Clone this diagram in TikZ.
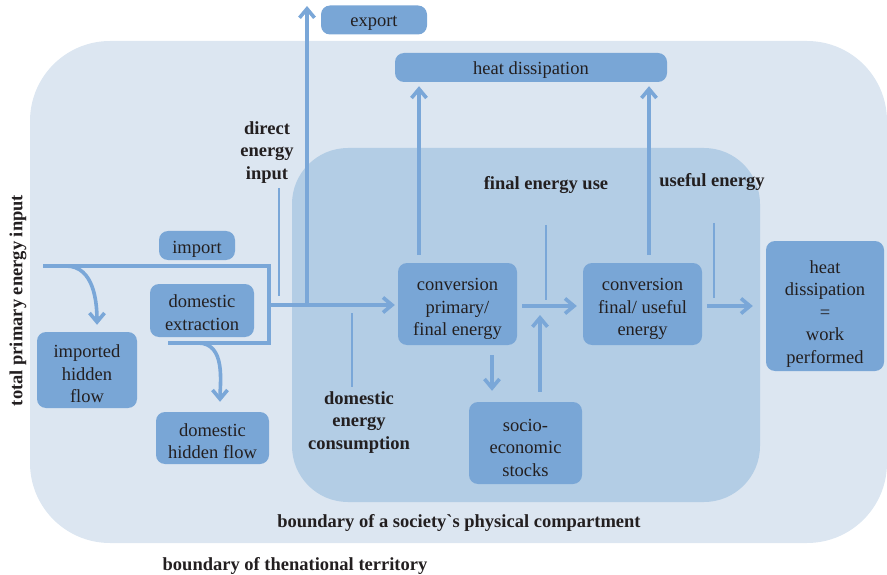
\documentclass[tikz,border=0pt]{standalone}
\usepackage{fontspec}
\setmainfont{Liberation Serif}
\usetikzlibrary{arrows.meta}
\definecolor{outer-bg}{HTML}{DCE6F1}
\definecolor{inner-bg}{HTML}{B3CDE5}
\definecolor{box-blue}{HTML}{79A6D6}
\definecolor{flow-blue}{HTML}{7AA7D8}
\definecolor{ink}{HTML}{231F20}
\newcommand{\dfont}{\fontsize{18.5}{22.5}\selectfont}

\begin{document}
\begin{tikzpicture}[x=1pt, y=-1pt,
    every node/.style={font=\dfont, text=ink},
    box/.style={fill=box-blue, rounded corners=9pt, inner sep=0pt},
    tx/.style={align=center, inner sep=0pt},
    flow/.style={draw=flow-blue, line width=3.6pt},
    arr/.style={flow, -{Straight Barb[length=9pt, width=15pt, line width=3.6pt]}},
    tick/.style={draw=flow-blue, line width=2pt},
    lbl/.style={font=\dfont\bfseries, align=center, yshift=-2.5pt}]
    \useasboundingbox (0,0) rectangle (887,575);

    % national territory and the society's compartment
    \fill[outer-bg, rounded corners=80pt] (30,41) rectangle (887,543);
    \fill[inner-bg, rounded corners=56pt] (292,148) rectangle (760,502);

    \node[box, minimum width=106pt, minimum height=29pt,
      label={[tx, yshift=-3.5pt]center:export}] (export) at (374,20) {};
    \node[box, minimum width=272pt, minimum height=29pt,
      label={[tx, yshift=-3pt]center:heat dissipation}] (heat) at (531,67.5) {};
    \node[box, minimum width=76pt, minimum height=29pt,
      label={[tx, yshift=-3.5pt]center:import}] (import) at (197,245.5) {};
    \node[box, minimum width=104pt, minimum height=53pt,
      label={[tx, yshift=-2pt]center:{domestic\\extraction}}] (domext) at (202,310.5) {};
    \node[box, minimum width=100pt, minimum height=76pt,
      label={[tx, yshift=-4pt]center:{imported\\hidden\\flow}}] (ihf) at (87,370) {};
    \node[box, minimum width=113pt, minimum height=52pt,
      label={[tx, yshift=-3pt]center:{domestic\\hidden flow}}] (dhf) at (212.5,438) {};
    \node[box, minimum width=119pt, minimum height=82pt,
      label={[tx, yshift=-5pt]center:{conversion\\primary/\\final energy}}] (conv1) at (457.5,304) {};
    \node[box, minimum width=119pt, minimum height=82pt,
      label={[tx, yshift=-5pt]center:{conversion\\final/ useful\\energy}}] (conv2) at (642.5,304) {};
    \node[box, minimum width=118pt, minimum height=130pt,
      label={[tx, yshift=-8pt]center:{heat\\dissipation\\=\\work\\performed}}] (work) at (825,306) {};
    \node[box, minimum width=113pt, minimum height=82pt,
      label={[tx, yshift=-4.5pt]center:{socio-\\economic\\stocks}}] (stocks) at (525.5,443) {};

    % labels
    \node[lbl] (dei) at (267,150) {direct\\energy\\input};
    \node[lbl] (feu) at (546,183) {final energy use};
    \node[lbl] (ue) at (712,180) {useful energy};
    \node[lbl] (dec) at (359,420) {domestic\\energy\\consumption};
    \node[lbl] (bsoc) at (459,520) {boundary of a society\textasciigrave s physical compartment};
    \node[lbl] (bnat) at (295,563) {boundary of thenational territory};
    \node[lbl, rotate=90, yshift=0pt] (tpei) at (18,298) {total primary energy input};

    % input bracket
    \coordinate (imp-l) at (43,266);
    \coordinate (imp-r) at (269,266);
    \coordinate (dom-r) at (269,343);
    \coordinate (dom-l) at (168,343);
    \coordinate (split) at (269,305);
    \coordinate (exp-foot) at (307,305);
    \coordinate (exp-tip) at (307,6);
    \draw[flow] (imp-l) -- (imp-r) -- (dom-r) -- (dom-l);
    \draw[arr, shorten >=3pt] (split) -- (conv1.west |- split);
    \draw[arr] (exp-foot) -- (exp-tip);

    % hidden flows
    \coordinate (ihf-src) at (66,266);
    \coordinate (dhf-src) at (198,343);
    \draw[arr, shorten >=7pt] (ihf-src) to[out=0, in=90] ([xshift=10pt]ihf.north);
    \draw[arr, shorten >=10pt] (dhf-src) to[out=0, in=90] ([xshift=7.5pt]dhf.north);

    % conversion chain
    \draw[arr, shorten <=8pt, shorten >=4pt] ([xshift=-38.5pt]conv1.north)
      -- ([xshift=-38.5pt]conv1.north |- heat.south);
    \draw[arr, shorten <=8pt, shorten >=4pt] ([xshift=6.5pt]conv2.north)
      -- ([xshift=6.5pt]conv2.north |- heat.south);
    \draw[arr, shorten <=5pt, shorten >=6pt] ([yshift=-2pt]conv1.east) -- ([yshift=-2pt]conv2.west);
    \draw[arr, shorten <=5pt, shorten >=13pt] ([yshift=-2pt]conv2.east) -- (work.west);
    \draw[arr, shorten <=10pt, shorten >=11pt] ([xshift=34.5pt]conv1.south)
      -- ([xshift=34.5pt]conv1.south |- stocks.north);
    \draw[arr, shorten <=10pt, shorten >=9pt] ([xshift=14.5pt]stocks.north)
      -- ([xshift=14.5pt, yshift=-2pt]stocks.north |- conv1.east);

    % marker lines
    \coordinate (dei-a) at (279,188);
    \coordinate (dei-b) at (279,296);
    \coordinate (dec-a) at (352,313);
    \coordinate (dec-b) at (352,387);
    \coordinate (feu-a) at (546,225);
    \coordinate (feu-b) at (546,300);
    \coordinate (ue-a) at (714,223);
    \coordinate (ue-b) at (714,298);
    \draw[tick] (dei-a) -- (dei-b);
    \draw[tick] (dec-a) -- (dec-b);
    \draw[tick] (feu-a) -- (feu-b);
    \draw[tick] (ue-a) -- (ue-b);
  \end{tikzpicture}
\end{document}
